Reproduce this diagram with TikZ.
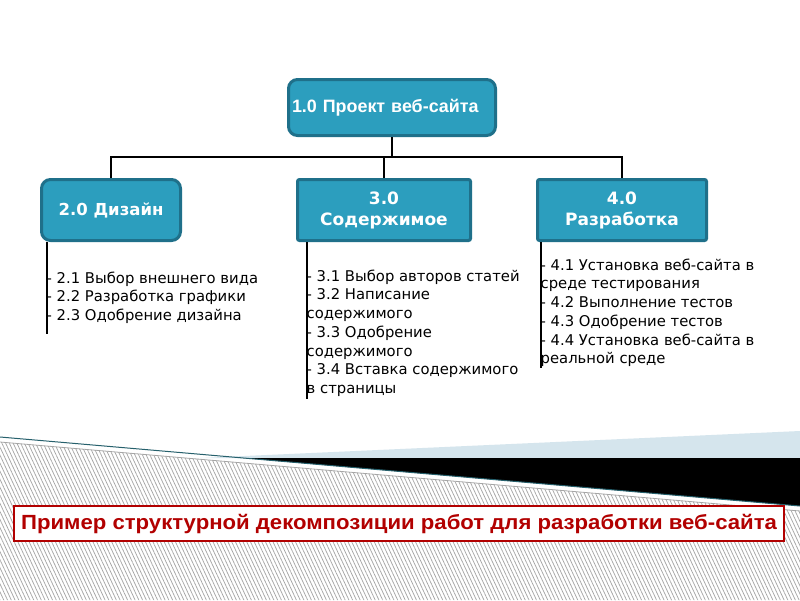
\documentclass[tikz,border=0pt]{standalone}
\usepackage{fontspec}
\setmainfont{DejaVu Sans}
\newfontfamily\arialfont{Liberation Sans}
\newfontfamily\capfont[FakeStretch=1.08]{Liberation Sans}
\usetikzlibrary{positioning,calc,patterns.meta}

\definecolor{wbsblue}{RGB}{44,158,190}
\definecolor{wbsedge}{RGB}{31,112,138}
\definecolor{capred}{RGB}{178,0,0}
\definecolor{bandblue}{RGB}{213,229,237}
\definecolor{slopeteal}{RGB}{38,96,108}
\def\hatch{gray!70}
\tikzstyle{wbsbox}=[draw=wbsedge, fill=wbsblue, line width=3pt, text=white,
                    font=\bfseries\fontsize{17}{21}\selectfont, align=center,
                    minimum height=61pt, inner sep=2pt]
\tikzstyle{topbox}=[wbsbox, rounded corners=9pt, align=left, text width=200pt,
                    inner xsep=3.5pt, minimum height=56pt,
                    font=\arialfont\bfseries\fontsize{17.9}{21}\selectfont]
\tikzstyle{worklist}=[align=left, inner sep=0pt, anchor=north west,
                      font=\fontsize{14.8}{18.7}\selectfont]
\tikzstyle{tline}=[line width=2pt, black]

\begin{document}
\begin{tikzpicture}[x=1pt, y=-1pt]
  \useasboundingbox (0,0) rectangle (800,600);
  \fill[white] (0,0) rectangle (800,600);

  % Hatched floor and the slanted band
  \path[pattern={Lines[angle=-65,distance=3.4pt,line width=0.75pt]}, pattern color=\hatch]
    (0,442) -- (800,511) -- (800,600) -- (0,600) -- cycle;
  \fill[bandblue] (200,458) -- (800,431) -- (800,458) -- cycle;
  \fill[black] (243,458) -- (800,458) -- (800,506) -- cycle;
  \draw[slopeteal, line width=1pt] (0,437) -- (800,506);
  \draw[gray!70, line width=0.8pt] (0,442) -- (800,511);

  % Place the project and its three parts
  \node[topbox] (proj) at (392,107.5) {1.0 Проект веб-сайта};

  \node[wbsbox, rounded corners=9pt, minimum width=139pt, font=\bfseries\fontsize{16.5}{21}\selectfont]
    (design) at (111,210) {2.0 Дизайн};
  \node[wbsbox, rounded corners=2pt, minimum width=173pt] (content) at (384,210) {3.0\\Содержимое};
  \node[wbsbox, rounded corners=2pt, minimum width=169pt] (dev) at (622,210) {4.0\\Разработка};

  \draw[tline] (proj.south) -- ++(0,20) -| (design.north);
  \draw[tline] (proj.south) -- ++(0,20) -| (dev.north);
  \draw[tline] (content.north) -- ++(0,-21);

  % Work packages under each part
  \node[worklist] (design list) at (46.5,271.5) {- 2.1 Выбор внешнего вида\\- 2.2 Разработка графики\\- 2.3 Одобрение дизайна};
  \node[worklist] (content list) at (306.5,269.5) {- 3.1 Выбор авторов статей\\- 3.2 Написание\\содержимого\\- 3.3 Одобрение\\содержимого\\- 3.4 Вставка содержимого\\в страницы};
  \node[worklist] (dev list) at (540.5,258.5) {- 4.1 Установка веб-сайта в\\среде тестирования\\- 4.2 Выполнение тестов\\- 4.3 Одобрение тестов\\- 4.4 Установка веб-сайта в\\реальной среде};

  \draw[tline] (design.south -| design list.west) -- ($(design list.south west)+(0,10)$);
  \draw[tline] (content.south -| content list.west) -- ($(content list.south west)+(0,2)$);
  \draw[tline] (dev.south -| dev list.west) -- ($(dev list.south west)+(0,1)$);

  % Caption
  \node[draw=capred, line width=2.5pt, fill=white, text=capred, minimum width=770pt,
        minimum height=35pt, inner sep=0pt, font=\capfont\bfseries\fontsize{20.5}{24}\selectfont]
    (caption) at (399,523.5) {Пример структурной декомпозиции работ для разработки веб-сайта};
\end{tikzpicture}
\end{document}
